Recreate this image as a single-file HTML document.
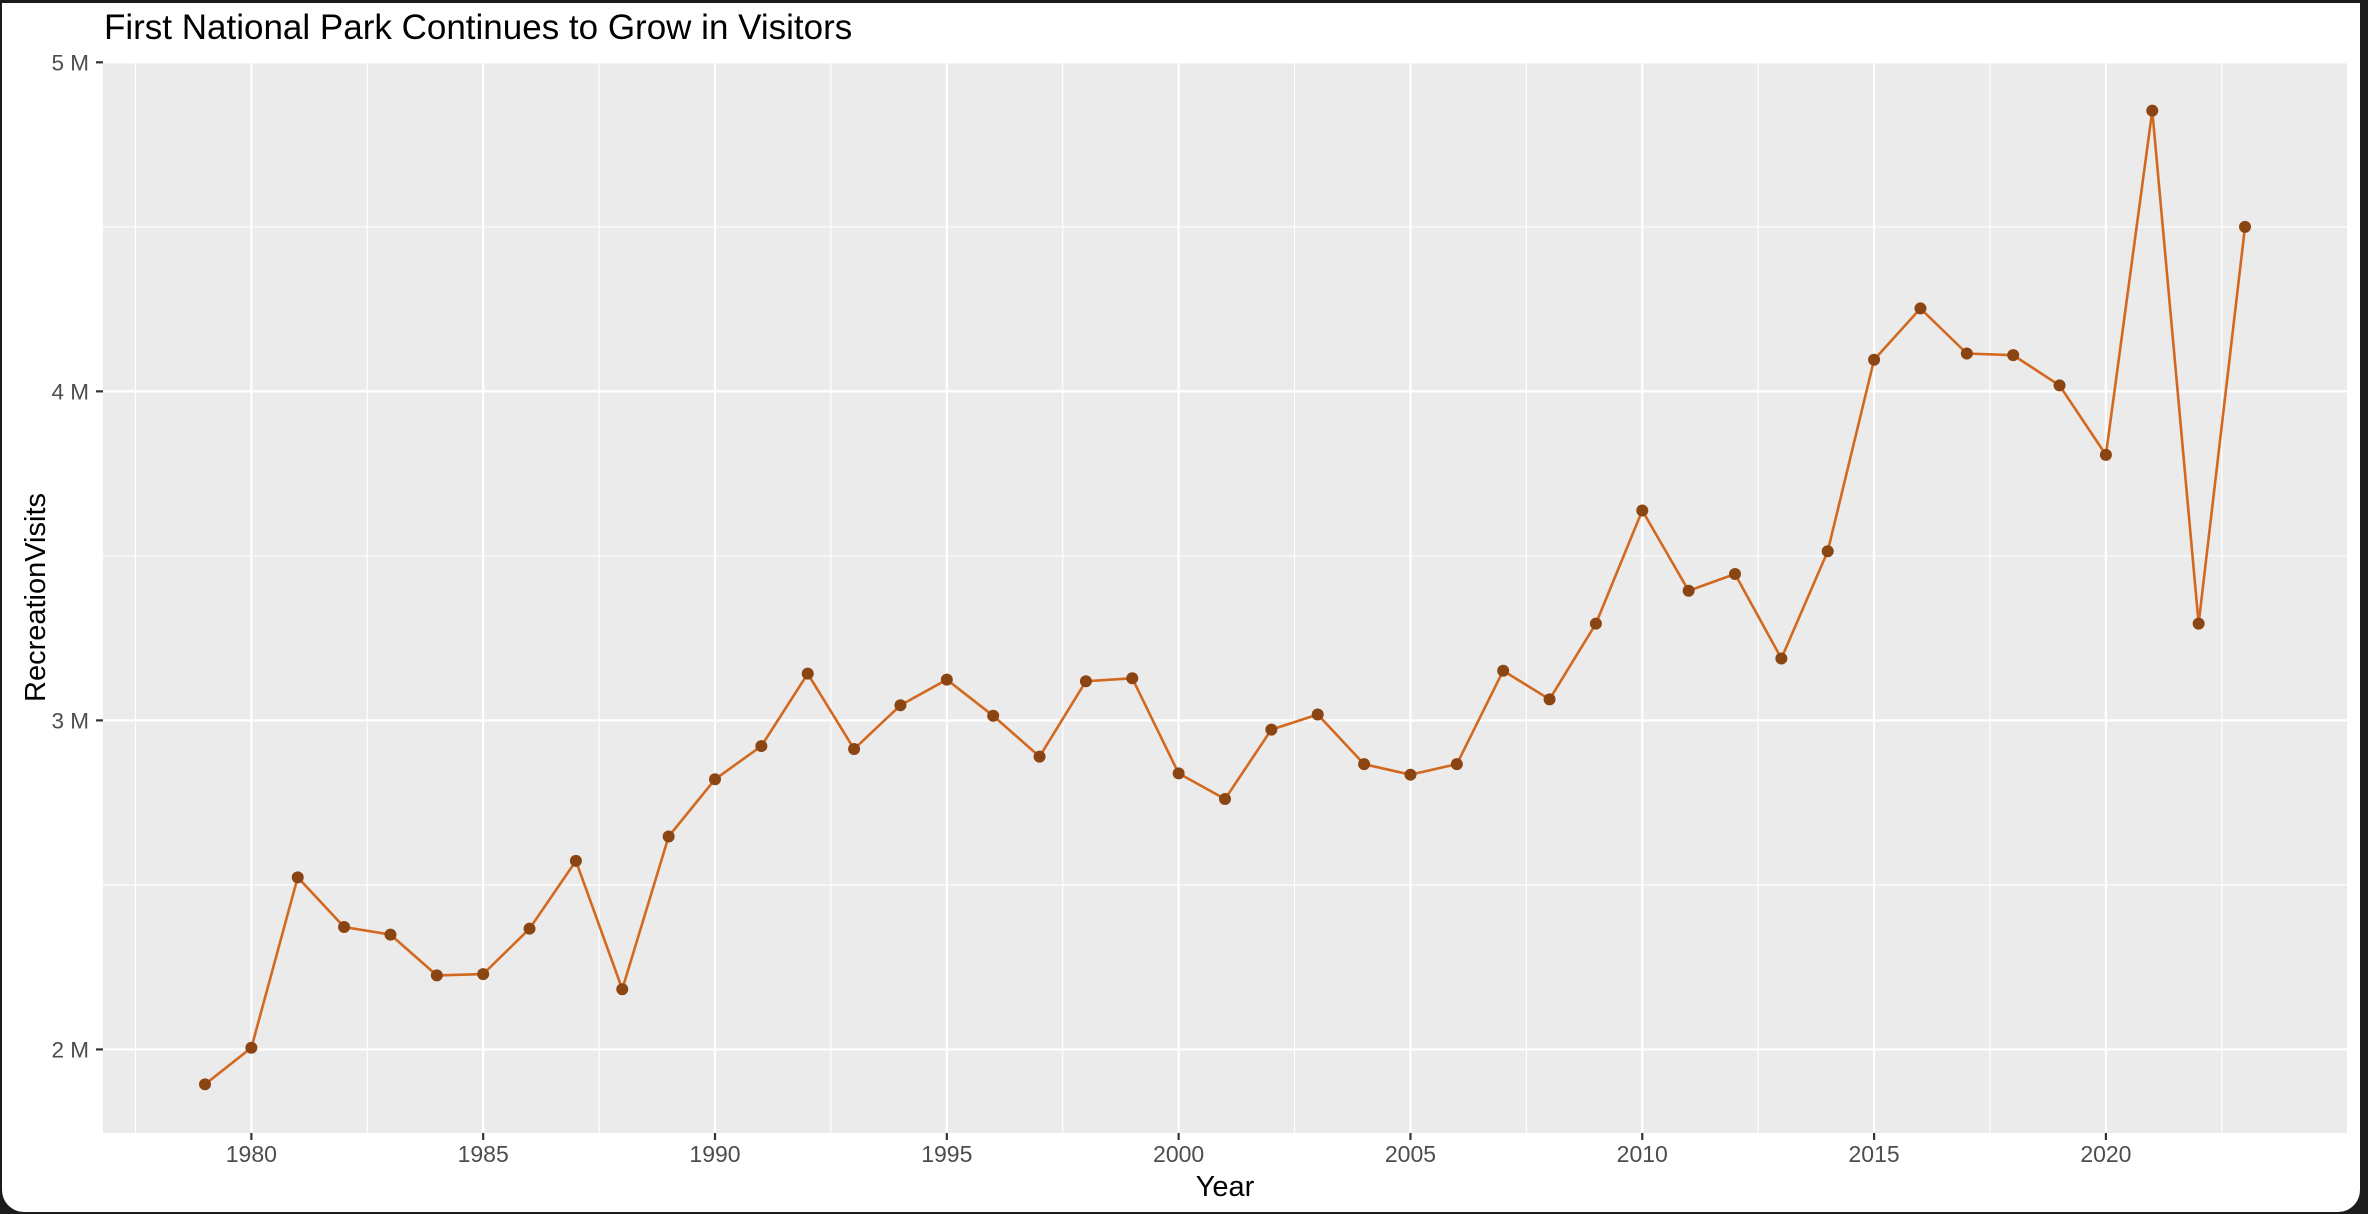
<!DOCTYPE html>
<html><head><meta charset="utf-8"><style>
html,body{margin:0;padding:0;background:#1c1c1c;width:2368px;height:1214px;overflow:hidden}
#frame{position:absolute;left:2px;top:3px;width:2358px;height:1209px;background:#fff;border-radius:0 0 22px 22px}
svg{position:absolute;left:0;top:0}
text{font-family:"Liberation Sans",Arial,sans-serif}
</style></head><body>
<div id="frame"></div>
<svg id="chart" width="2368" height="1214"></svg>
<script>
const years=[1979,1980,1981,1982,1983,1984,1985,1986,1987,1988,1989,1990,1991,1992,1993,1994,1995,1996,1997,1998,1999,2000,2001,2002,2003,2004,2005,2006,2007,2008,2009,2010,2011,2012,2013,2014,2015,2016,2017,2018,2019,2020,2021,2022,2023];
const visits=[1.894,2.005,2.523,2.372,2.349,2.225,2.229,2.367,2.573,2.183,2.647,2.821,2.922,3.142,2.913,3.046,3.124,3.014,2.890,3.119,3.128,2.839,2.761,2.972,3.018,2.867,2.835,2.867,3.151,3.064,3.294,3.638,3.394,3.445,3.188,3.514,4.096,4.252,4.115,4.110,4.018,3.807,4.853,3.294,4.500];
const xTicks=[1980,1985,1990,1995,2000,2005,2010,2015,2020];
const yTicks=[2,3,4,5];
const yTickLabels=["2 M","3 M","4 M","5 M"];

const NS="http://www.w3.org/2000/svg";
const svg=document.getElementById('chart');
const P={l:103,r:2347,t:62,b:1133};
const xmin=Math.min(...years),xmax=Math.max(...years);
const ymin=Math.min(...visits),ymax=Math.max(...visits);
const xr=[xmin-(xmax-xmin)*0.05,xmax+(xmax-xmin)*0.05];
const yr=[ymin-(ymax-ymin)*0.05,ymax+(ymax-ymin)*0.05];
const X=v=>P.l+(v-xr[0])/(xr[1]-xr[0])*(P.r-P.l);
const Y=v=>P.b-(v-yr[0])/(yr[1]-yr[0])*(P.b-P.t);
function mk(tag,attrs,parent){const e=document.createElementNS(NS,tag);for(const k in attrs)e.setAttribute(k,attrs[k]);(parent||svg).appendChild(e);return e;}

const panel=mk('rect',{x:P.l,y:P.t,width:P.r-P.l,height:P.b-P.t,fill:'#ebebeb'});



const grid=mk('g',{});


for(let i=0;i<xTicks.length+1;i++){const v=xTicks[0]-2.5+i*5;if(X(v)>P.l&&X(v)<P.r)mk('line',{x1:X(v),x2:X(v),y1:P.t,y2:P.b,stroke:'#fff','stroke-width':1.1},grid);}
for(let i=0;i<yTicks.length+1;i++){const v=yTicks[0]-0.5+i;if(Y(v)>P.t&&Y(v)<P.b)mk('line',{x1:P.l,x2:P.r,y1:Y(v),y2:Y(v),stroke:'#fff','stroke-width':1.1},grid);}
xTicks.forEach(v=>{
  mk('line',{x1:X(v),x2:X(v),y1:P.t,y2:P.b,stroke:'#fff','stroke-width':2.2},grid);
  mk('line',{x1:X(v),x2:X(v),y1:P.b,y2:P.b+7,stroke:'#333','stroke-width':2.2});
  const t=mk('text',{x:X(v),y:1162,'text-anchor':'middle','font-size':23,fill:'#4d4d4d'});
  t.textContent=v;
  
  
});
yTicks.forEach((v,i)=>{
  mk('line',{x1:P.l,x2:P.r,y1:Y(v),y2:Y(v),stroke:'#fff','stroke-width':2.2},grid);
  mk('line',{x1:P.l-7,x2:P.l,y1:Y(v),y2:Y(v),stroke:'#333','stroke-width':2.2});
  const t=mk('text',{x:89,y:Y(v)+8,'text-anchor':'end','font-size':22.5,fill:'#4d4d4d'});
  t.textContent=yTickLabels[i];
  
  
});

const line=mk('polyline',{points:years.map((y,i)=>X(y)+','+Y(visits[i])).join(' '),fill:'none',stroke:'#d2691e','stroke-width':2.6});


years.forEach((y,i)=>{
  const c=mk('circle',{cx:X(y),cy:Y(visits[i]),r:6,fill:'#8b4513'});
  
  
});

const title=mk('text',{x:104,y:39,'font-size':35,fill:'#000'});
title.textContent='First National Park Continues to Grow in Visitors';


const xt=mk('text',{x:(P.l+P.r)/2,y:1196,'text-anchor':'middle','font-size':29,fill:'#000'});
xt.textContent='Year';


const yt=mk('text',{x:0,y:0,'text-anchor':'middle','font-size':29,fill:'#000',transform:'translate(45,'+((P.t+P.b)/2)+') rotate(-90)'});
yt.textContent='RecreationVisits';


</script>
</body></html>
